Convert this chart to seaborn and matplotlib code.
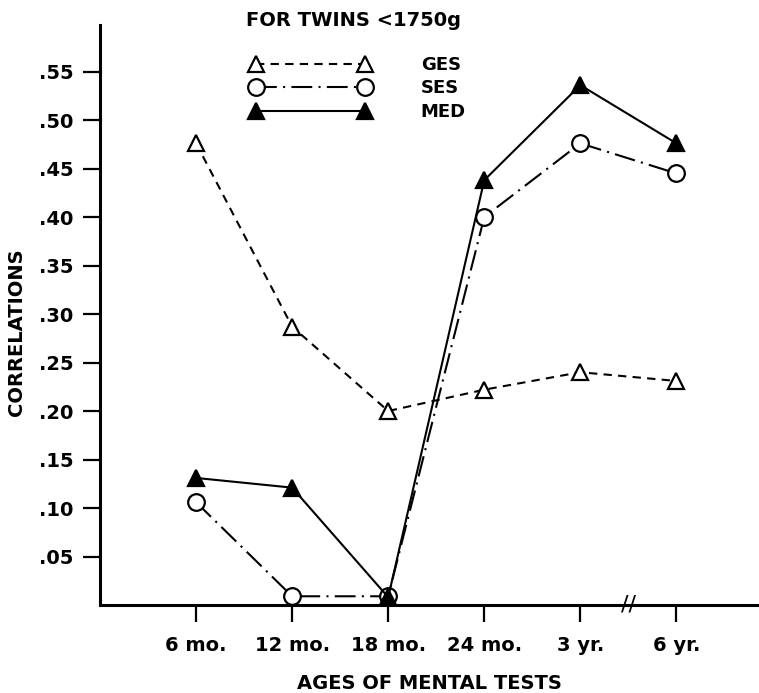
import numpy as np
import pandas as pd
import matplotlib
matplotlib.use("Agg")
import matplotlib.pyplot as plt
import seaborn as sns
from matplotlib.transforms import blended_transform_factory
from matplotlib.lines import Line2D

# ---- data ----
ages = ["6 mo.", "12 mo.", "18 mo.", "24 mo.", "3 yr.", "6 yr."]
ges = [0.476, 0.287, 0.200, 0.222, 0.240, 0.231]
ses = [0.106, 0.009, 0.009, 0.400, 0.476, 0.445]
med = [0.131, 0.121, 0.008, 0.438, 0.536, 0.476]
y_ticks = [0.05, 0.10, 0.15, 0.20, 0.25, 0.30, 0.35, 0.40, 0.45, 0.50, 0.55]
y_tick_labels = [".05", ".10", ".15", ".20", ".25", ".30", ".35", ".40", ".45", ".50", ".55"]
series_names = ["GES", "SES", "MED"]
title_text = "FOR TWINS <1750g"

sns.set_theme(style="ticks")
plt.rcParams['font.family'] = ['DejaVu Sans']
plt.rcParams['text.color'] = 'black'
plt.rcParams['axes.labelcolor'] = 'black'
plt.rcParams['xtick.color'] = 'black'
plt.rcParams['ytick.color'] = 'black'
plt.rcParams['font.weight'] = 'bold'

W, H = 759, 693
fig = plt.figure(figsize=(W / 100, H / 100), dpi=100)
ax = fig.add_axes([100 / W, 1 - 605 / H, 1 - 100 / W, (605 - 25) / H])

x_idx = np.arange(len(ages))
styles = {
    "GES": dict(linestyle=(0, (4, 3)), marker="^", markerfacecolor="white"),
    "SES": dict(linestyle=(0, (10, 3, 1, 3)), marker="o", markerfacecolor="white"),
    "MED": dict(linestyle="-", marker="^", markerfacecolor="black"),
}
values = {"GES": ges, "SES": ses, "MED": med}

for name in series_names:
    st = styles[name]
    sns.lineplot(x=x_idx, y=values[name], ax=ax, color="black", linewidth=1.5,
                 linestyle=st["linestyle"], marker=st["marker"], markersize=12,
                 markerfacecolor=st["markerfacecolor"], markeredgecolor="black",
                 markeredgewidth=1.6, clip_on=False, legend=False, zorder=3)

ax.set_xlim(-1.0, 5.86)
ax.set_ylim(0, 0.598)
ax.set_xticks(x_idx)
ax.set_xticklabels(ages, fontsize=14, fontweight="bold")
ax.set_yticks(y_ticks)
ax.set_yticklabels(y_tick_labels, fontsize=14, fontweight="bold")
ax.tick_params(axis="both", direction="out", length=12, width=1.6, color="black", pad=7)
ax.tick_params(axis="x", pad=10)
for s in ["top", "right"]:
    ax.spines[s].set_visible(False)
for s in ["left", "bottom"]:
    ax.spines[s].set_linewidth(2.2)
    ax.spines[s].set_color("black")

ax.set_xlabel("AGES OF MENTAL TESTS", fontsize=14, fontweight="bold", labelpad=14)
ax.set_ylabel("CORRELATIONS", fontsize=14, fontweight="bold")
ax.yaxis.set_label_coords(-0.112, 0.47)

# axis break marks between 3 yr. and 6 yr.
trans = blended_transform_factory(ax.transData, ax.transAxes)
ax.text(4.5, 0.0, "//", transform=trans, ha="center", va="center", fontsize=16,
        color="black", clip_on=False, fontweight="normal")

# legend
handles = []
for name in series_names:
    st = styles[name]
    handles.append(Line2D([], [], color="black", linewidth=1.5, linestyle=st["linestyle"],
                          marker=st["marker"], markersize=12,
                          markerfacecolor=st["markerfacecolor"], markeredgecolor="black",
                          markeredgewidth=1.6))
leg = ax.legend(handles, series_names, loc="upper left",
                bbox_to_anchor=(251 / W, 1 - 56 / H), bbox_transform=fig.transFigure,
                frameon=False, numpoints=2, handlelength=6.6, handletextpad=2.8,
                labelspacing=0.3, borderpad=0, borderaxespad=0,
                prop={"size": 13, "weight": "bold"})
fig.text(354 / W, 1 - 20 / H, title_text, ha="center", va="center", fontsize=14,
         fontweight="bold")

fig.savefig("out.png", dpi=100)
